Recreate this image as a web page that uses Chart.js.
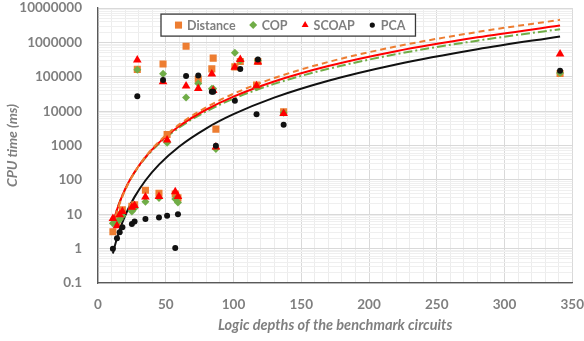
<!DOCTYPE html>
<html><head><meta charset="utf-8">
<script src="https://cdn.jsdelivr.net/npm/chart.js@4"></script>
<style>html,body{margin:0;padding:0;background:#fff;}#wrap{width:584px;height:341px;position:relative}</style>
</head><body><div id="wrap"><canvas id="c"></canvas></div>
<script>
// Benchmark circuits: logic depth (x) and CPU time in ms (y)
const depths = [11, 14, 16, 18, 25, 27, 29, 35, 45, 48, 51, 57, 59, 65, 74, 84, 85, 87, 101, 105, 117, 118, 137, 341];
const distance = [3.1, 6, 9.7, 13.5, 17, 19, 165000, 50, 41, 235000, 2100, 39, 30, 780000, 85000, 170000, 350000, 3000, 195000, 280000, 58000, 280000, 9600, 125000];
const cop = [5.5, 6, 7, 9, 12, 15, 160000, 23, 30, 123000, 1200, 28, 22, 25000, 64000, 45000, 45000, 800, 500000, 300000, 50000, 300000, 9000, 130000];
const scoap = [7.5, 4.6, 9.7, 12, 16, 18, 310000, 32, 33, 72000, 1460, 45, 33, 54000, 46000, 120000, 40000, 900, 190000, 320000, 55000, 270000, 8500, 460000];
const pca = [1, 2, 3, 4.2, 5.2, 6.2, 27000, 7.3, 8.1, 81000, 9, 1.05, 10, 105000, 110000, 37000, 37000, 980, 20000, 170000, 8100, 320000, 4000, 150000];

// Trend lines
const trendX = [11, 13, 15, 18, 22, 27, 35, 45, 60, 80, 100, 130, 170, 220, 280, 341];
const trendDistance = [4.5, 8.8, 15.7, 32.6, 73, 166, 472, 1296, 4120, 13100, 32100, 92200, 271000, 764000, 2020000, 4550000];
const trendSCOAP = [5.3, 10.1, 17.5, 35.5, 77, 170, 462, 1218, 3700, 11200, 26600, 73200, 206000, 557000, 1410000, 3100000];
const trendCOP = [5.5, 10.3, 17.8, 35.4, 75.5, 164, 437, 1130, 3350, 9930, 23100, 62300, 171000, 455000, 1130000, 2440000];
const trendPCA = [0.72, 1.46, 2.67, 5.78, 13.5, 32.1, 96.3, 279, 942, 3180, 8170, 24800, 77000, 229000, 636000, 1500000];

// Axis ticks
const yTickValues = [0.1, 1, 10, 100, 1000, 10000, 100000, 1000000, 10000000];
const yTickLabels = ['0.1', '1', '10', '100', '1000', '10000', '100000', '1000000', '10000000'];
const xTickValues = [0, 50, 100, 150, 200, 250, 300, 350];
const xTickLabels = ['0', '50', '100', '150', '200', '250', '300', '350'];
const seriesNames = ['Distance', 'COP', 'SCOAP', 'PCA'];

const C_ORANGE = '#ED7D31', C_GREEN = '#70AD47', C_RED = '#FF0000', C_BLACK = '#111111';
const TXT = '#7f7f7f';
const FONT = 'Lato, "Liberation Sans", sans-serif';

const pts = (xs, ys) => xs.map((x, i) => ({x: x, y: ys[i]}));

const scatterDs = (label, ys, color, style, r, order) => ({
  type: 'scatter', label: label, data: pts(depths, ys),
  pointStyle: style, pointRadius: r, pointHoverRadius: r,
  backgroundColor: color, borderColor: color, borderWidth: 0, order: order, showLine: false
});
const trendDs = (label, ys, color, dash, order) => ({
  type: 'line', label: label, data: pts(trendX, ys),
  borderColor: color, borderWidth: 2, borderDash: dash, pointRadius: 0,
  fill: false, cubicInterpolationMode: 'monotone', order: order
});

const legendBox = {
  id: 'legendBox',
  afterDatasetsDraw(chart) {
    const ctx = chart.ctx, a = chart.chartArea;
    ctx.save();
    ctx.font = 'bold 12.5px ' + FONT;
    const padL = 17.5, padR = 10, mk = 8.5, gap = 17.5;
    let w = padL + padR;
    seriesNames.forEach((n, i) => { w += mk + ctx.measureText(n).width + (i < seriesNames.length - 1 ? gap : 0); });
    const left = a.left + 63, top = a.top + 6, h = 22;
    ctx.fillStyle = '#ffffff';
    ctx.fillRect(left, top, w, h);
    ctx.strokeStyle = '#3a3a3a'; ctx.lineWidth = 1.3;
    ctx.strokeRect(left, top, w, h);
    ctx.textBaseline = 'middle'; ctx.textAlign = 'left';
    const cy = top + h / 2;
    let x = left + padL;
    seriesNames.forEach((n, i) => {
      const ds = chart.data.datasets[i];
      ctx.fillStyle = ds.backgroundColor; ctx.strokeStyle = ds.backgroundColor;
      const r = ds.pointStyle === 'circle' ? 2.6 : (ds.pointStyle === 'rect' ? 5 : 4);
      Chart.helpers.drawPoint(ctx, {pointStyle: ds.pointStyle, radius: r, rotation: 0, borderWidth: 0}, x, cy);
      ctx.fillStyle = TXT;
      ctx.fillText(n, x + mk, cy + 0.5);
      x += mk + ctx.measureText(n).width + gap;
    });
    ctx.restore();
  }
};

const yTicksAll = [];
yTickValues.forEach((v, i) => {
  yTicksAll.push({value: v, major: true});
  if (i < yTickValues.length - 1) for (let m = 2; m <= 9; m++) yTicksAll.push({value: +(v * m).toPrecision(3), major: false});
});
const xTicksAll = [];
for (let v = 0; v <= 350; v += 10) xTicksAll.push({value: v, major: xTickValues.includes(v)});

new Chart(document.getElementById('c'), {
  data: {
    datasets: [
      scatterDs('Distance', distance, C_ORANGE, 'rect', 5, 4),
      scatterDs('COP', cop, C_GREEN, 'rectRot', 4, 3),
      scatterDs('SCOAP', scoap, C_RED, 'triangle', 5, 2),
      scatterDs('PCA', pca, C_BLACK, 'circle', 3, 1),
      trendDs('Distance trend', trendDistance, C_ORANGE, [6, 4], 5),
      trendDs('COP trend', trendCOP, C_GREEN, [9, 3, 2, 3], 6),
      trendDs('SCOAP trend', trendSCOAP, C_RED, [], 5),
      trendDs('PCA trend', trendPCA, C_BLACK, [], 5)
    ]
  },
  options: {
    responsive: true, maintainAspectRatio: false, animation: false, devicePixelRatio: 1,
    layout: {padding: {left: 0, right: 5, top: 8, bottom: 0}},
    plugins: {legend: {display: false}, tooltip: {enabled: false}},
    scales: {
      x: {
        type: 'linear', min: 0, max: 350,
        afterBuildTicks: s => { s.ticks = xTicksAll.map(t => ({value: t.value, major: t.major})); },
        afterFit: s => { s.height = 58; },
        ticks: {
          autoSkip: false, maxRotation: 0, padding: 0, color: TXT,
          font: {family: FONT, size: 13.5, weight: 'bold'},
          callback: (v) => { const k = xTickValues.indexOf(v); return k >= 0 ? xTickLabels[k] : ''; }
        },
        grid: {drawTicks: true, tickLength: 14, tickColor: 'rgba(0,0,0,0)', color: c => (c.tick && c.tick.major) ? '#d9d9d9' : '#ececec', lineWidth: 1},
        border: {display: true, color: '#595959', width: 1.3},
        title: {display: true, text: 'Logic depths of the benchmark circuits', color: TXT,
          font: {family: FONT, size: 14.5, weight: 'bold', style: 'italic'}, padding: {top: 0, bottom: 7}}
      },
      y: {
        type: 'logarithmic', min: 0.1, max: 10000000,
        afterBuildTicks: s => { s.ticks = yTicksAll.map(t => ({value: t.value, major: t.major})); },
        afterFit: s => { s.width = 98; },
        ticks: {
          autoSkip: false, padding: 0, color: TXT,
          font: {family: FONT, size: 13.5, weight: 'bold'},
          callback: (v) => { const k = yTickValues.findIndex(t => Math.abs(t - v) / t < 1e-6); return k >= 0 ? yTickLabels[k] : ''; }
        },
        grid: {drawTicks: true, tickLength: 16, tickColor: 'rgba(0,0,0,0)', color: c => (c.tick && c.tick.major) ? '#d9d9d9' : '#efefef', lineWidth: 1},
        border: {display: true, color: '#595959', width: 1.3},
        title: {display: true, text: 'CPU time (ms)', color: TXT,
          font: {family: FONT, size: 14, weight: 'bold', style: 'italic'}, padding: {top: 4, bottom: 0}}
      }
    }
  },
  plugins: [legendBox]
});
</script></body></html>
